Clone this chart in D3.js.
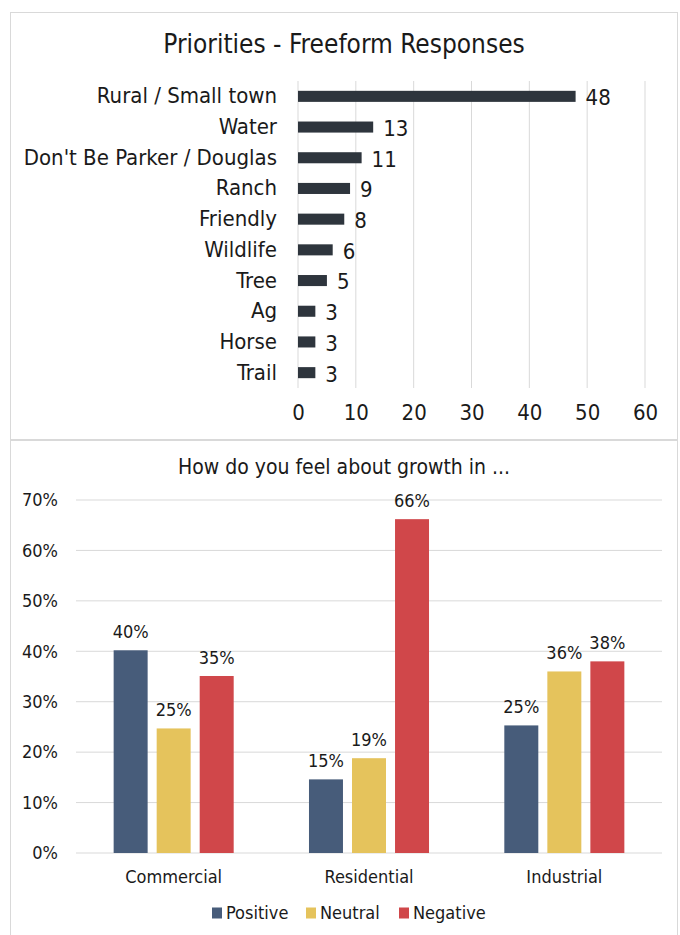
<!DOCTYPE html>
<html>
<head>
<meta charset="utf-8">
<script src="https://cdn.jsdelivr.net/npm/d3@7"></script>
<style>
  html, body { margin: 0; padding: 0; background: #fff; }
  svg { display: block; }
  text { font-family: "DejaVu Sans Condensed", "DejaVu Sans", sans-serif; fill: #1a1a1a; }
</style>
</head>
<body>
<svg id="chart" width="680" height="935"></svg>
<script>
// ---- Top chart data ----
const priorityCategories = ["Rural / Small town", "Water", "Don't Be Parker / Douglas", "Ranch", "Friendly", "Wildlife", "Tree", "Ag", "Horse", "Trail"];
const priorityCounts = [48, 13, 11, 9, 8, 6, 5, 3, 3, 3];
const priorityTicks = [0, 10, 20, 30, 40, 50, 60];

// ---- Bottom chart data ----
const growthCategories = ["Commercial", "Residential", "Industrial"];
const seriesNames = ["Positive", "Neutral", "Negative"];
const positiveValues = [0.402, 0.146, 0.253];
const neutralValues = [0.247, 0.188, 0.360];
const negativeValues = [0.351, 0.662, 0.380];
const growthTicks = [0, 0.1, 0.2, 0.3, 0.4, 0.5, 0.6, 0.7];

const seriesColors = ["#475c7a", "#e5c35c", "#d0474a"];

const svg = d3.select("#chart");

// Panel borders
svg.append("rect").attr("x", 10.5).attr("y", 12.5).attr("width", 667).attr("height", 427)
  .attr("fill", "none").attr("stroke", "#d9d9d9");
svg.append("rect").attr("x", 10.5).attr("y", 440.5).attr("width", 667).attr("height", 500)
  .attr("fill", "none").attr("stroke", "#d9d9d9");

// ================= TOP: horizontal bar chart =================
{
  const x = d3.scaleLinear().domain([0, 60]).range([298, 645]);
  const y = d3.scaleBand().domain(priorityCategories).range([81, 388]).paddingInner(0.64).paddingOuter(0.32);

  const g = svg.append("g");

  g.append("text").attr("x", 344).attr("y", 53).attr("text-anchor", "middle")
    .style("font-size", "26px").text("Priorities - Freeform Responses");

  // gridlines
  g.append("g").selectAll("line").data(priorityTicks).join("line")
    .attr("x1", d => x(d)).attr("x2", d => x(d))
    .attr("y1", 81).attr("y2", 388)
    .attr("stroke", "#d9d9d9").attr("stroke-width", 1);

  // axis tick labels
  const xAxis = d3.axisBottom(x).tickValues(priorityTicks).tickSize(0).tickPadding(0);
  const ax = g.append("g").attr("transform", "translate(0,401)").call(xAxis);
  ax.select(".domain").remove();
  ax.selectAll("text").style("font-size", "22px").attr("fill", "#1a1a1a")
    .attr("dy", "0.85em").style("font-family", null);

  // category labels
  const yAxis = d3.axisLeft(y).tickSize(0).tickPadding(0);
  const ay = g.append("g").attr("transform", "translate(277,0)").call(yAxis);
  ay.select(".domain").remove();
  ay.selectAll("text").style("font-size", "22px").attr("fill", "#1a1a1a").style("font-family", null);

  const data = priorityCategories.map((c, i) => ({ c, v: priorityCounts[i] }));
  g.append("g").selectAll("rect").data(data).join("rect")
    .attr("x", x(0)).attr("y", d => y(d.c))
    .attr("width", d => x(d.v) - x(0)).attr("height", y.bandwidth())
    .attr("fill", "#2e353d");

  g.append("g").selectAll("text").data(data).join("text")
    .attr("x", d => x(d.v) + 10).attr("y", d => y(d.c) + y.bandwidth() / 2 + 1)
    .attr("dy", "0.36em").style("font-size", "22px").text(d => d.v);
}

// ================= BOTTOM: grouped column chart =================
{
  const y = d3.scaleLinear().domain([0, 0.7]).range([853, 500]);
  const x0 = d3.scaleBand().domain(growthCategories).range([76, 662]).padding(0);
  const x1 = d3.scaleBand().domain(seriesNames).range([0, x0.bandwidth()])
    .paddingInner(0.21).paddingOuter(0.875);

  const g = svg.append("g");

  g.append("text").attr("x", 344).attr("y", 474).attr("text-anchor", "middle")
    .style("font-size", "21px").text("How do you feel about growth in ...");

  // gridlines
  g.append("g").selectAll("line").data(growthTicks).join("line")
    .attr("x1", 76).attr("x2", 662)
    .attr("y1", d => y(d)).attr("y2", d => y(d))
    .attr("stroke", "#d9d9d9").attr("stroke-width", 1);

  const yAxis = d3.axisLeft(y).tickValues(growthTicks).tickFormat(d3.format(".0%")).tickSize(0).tickPadding(0);
  const ay = g.append("g").attr("transform", "translate(58,0)").call(yAxis);
  ay.select(".domain").remove();
  ay.selectAll("text").style("font-size", "18px").attr("fill", "#1a1a1a").style("font-family", null);

  const xAxis = d3.axisBottom(x0).tickSize(0).tickPadding(0);
  const ax = g.append("g").attr("transform", "translate(0,869)").call(xAxis);
  ax.select(".domain").remove();
  ax.selectAll("text").style("font-size", "18px").attr("fill", "#1a1a1a")
    .attr("dy", "0.75em").style("font-family", null);

  const seriesValues = [positiveValues, neutralValues, negativeValues];
  const flat = [];
  growthCategories.forEach((c, i) => {
    seriesNames.forEach((s, j) => flat.push({ c, s, j, v: seriesValues[j][i] }));
  });

  g.append("g").selectAll("rect").data(flat).join("rect")
    .attr("x", d => x0(d.c) + x1(d.s)).attr("y", d => y(d.v))
    .attr("width", x1.bandwidth()).attr("height", d => y(0) - y(d.v))
    .attr("fill", d => seriesColors[d.j]);

  g.append("g").selectAll("text").data(flat).join("text")
    .attr("x", d => x0(d.c) + x1(d.s) + x1.bandwidth() / 2)
    .attr("y", d => y(d.v) - 12)
    .attr("text-anchor", "middle").style("font-size", "18px")
    .text(d => d3.format(".0%")(d.v));

  // legend
  const legendX = [212, 306, 399];
  const lg = g.append("g").selectAll("g").data(seriesNames).join("g")
    .attr("transform", (d, i) => `translate(${legendX[i]},913)`);
  lg.append("rect").attr("x", 0).attr("y", -5.5).attr("width", 10).attr("height", 11)
    .attr("fill", (d, i) => seriesColors[i]);
  lg.append("text").attr("x", 14).attr("dy", "0.36em").style("font-size", "18px").text(d => d);
}
</script>
</body>
</html>
